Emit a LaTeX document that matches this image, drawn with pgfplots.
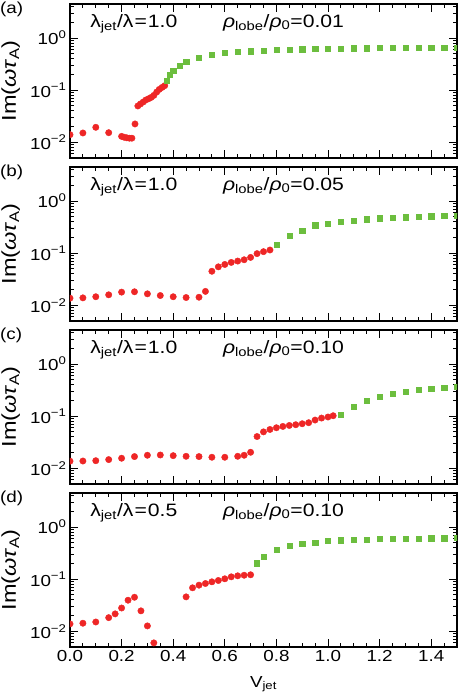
\documentclass[border=0pt]{standalone}
\usepackage{fontspec}
\setmainfont{Liberation Sans}[FakeStretch=1.18]
\usepackage{pgfplots}
\pgfplotsset{compat=1.18}
\definecolor{myred}{RGB}{238,38,38}
\definecolor{mygreen}{RGB}{108,190,62}
\newcommand{\fA}{\fontsize{18}{21}\selectfont}
\newcommand{\fY}{\fontsize{20}{23}\selectfont}
\newcommand{\fT}{\fontsize{16}{19}\selectfont}
\pgfplotsset{
  mypanel/.style={
    scale only axis, width=387bp, height=154bp,
    xmin=0, xmax=1.5, ymin=0.005, ymax=4.5,
    xtick={0,0.2,0.4,0.6,0.8,1.0,1.2,1.4},
    minor xtick={0.05,0.1,0.15,0.25,0.3,0.35,0.45,0.5,0.55,0.65,0.7,0.75,0.85,0.9,0.95,1.05,1.1,1.15,1.25,1.3,1.35,1.45},
    ytick={0.01,0.1,1},
    minor ytick={0.005,0.006,0.007,0.008,0.009,0.02,0.03,0.04,0.05,0.06,0.07,0.08,0.09,0.2,0.3,0.4,0.5,0.6,0.7,0.8,0.9,2,3,4},
    yticklabels={10\textsuperscript{−2},10\textsuperscript{−1},10\textsuperscript{0}},
    tick align=inside, major tick length=8bp, minor tick length=4bp,
    axis line style={line width=1.1bp},
    every tick/.style={black, line width=0.9bp},
    xticklabels={},
    tick label style={font=\fT},
    ylabel={Im(\textit{ωτ}\textsubscript{A})},
    every axis y label/.style={at={(axis description cs:-0.153,0.5)}, rotate=90, anchor=center, font=\fY},
    clip marker paths=true,
  },
  redpts/.style={only marks, mark=*, mark size=3.2bp, color=myred, mark options={draw=none, fill=myred}},
  grnpts/.style={only marks, mark=square*, mark size=2.6bp, color=mygreen, mark options={draw=none, fill=mygreen}},
}
\tikzset{lam/.style={anchor=base west, font=\fA, inner sep=0}}
\begin{document}
\begin{tikzpicture}
% ---------------- (a)
\begin{semilogyaxis}[mypanel, name=a, at={(0,0)}, anchor=north west]
\addplot+[redpts] coordinates {(0,0.0140) (0.05,0.0151) (0.1,0.0194) (0.15,0.0153) (0.2,0.0130) (0.21,0.0125) (0.22,0.0122) (0.23,0.0120) (0.24,0.0120) (0.252,0.0225) (0.263,0.0498) (0.273,0.0544) (0.284,0.0594) (0.294,0.0649) (0.305,0.0687) (0.315,0.0728) (0.325,0.0795) (0.336,0.092) (0.346,0.1035) (0.357,0.113) (0.367,0.122)};
\addplot+[grnpts] coordinates {(0.375,0.154) (0.3875,0.198) (0.4,0.236) (0.425,0.30) (0.45,0.35) (0.5,0.425) (0.55,0.485) (0.6,0.523) (0.65,0.546) (0.7,0.56) (0.75,0.58) (0.8,0.597) (0.85,0.605) (0.9,0.612) (0.95,0.617) (1.0,0.625) (1.05,0.632) (1.1,0.636) (1.15,0.64) (1.2,0.643) (1.25,0.646) (1.3,0.65) (1.35,0.652) (1.4,0.655) (1.45,0.658) (1.5,0.66)};
\node[lam] at (rel axis cs:0.052,0.85) {λ\textsubscript{jet}/λ\kern1pt=\kern1pt1.0};
\node[lam] at (rel axis cs:0.395,0.85) {\textit{ρ}\textsubscript{lobe}/\textit{ρ}\textsubscript{0}=0.01};
\end{semilogyaxis}
% ---------------- (b)
\begin{semilogyaxis}[mypanel, name=b, at={(0,-163bp)}, anchor=north west]
\addplot+[redpts] coordinates {(0,0.0137) (0.05,0.0139) (0.1,0.0146) (0.15,0.0159) (0.2,0.0179) (0.25,0.0182) (0.3,0.0166) (0.35,0.0154) (0.4,0.0146) (0.45,0.0141) (0.5,0.0143) (0.525,0.0185) (0.55,0.045) (0.575,0.0547) (0.6,0.0608) (0.625,0.0665) (0.65,0.0706) (0.675,0.0748) (0.7,0.083) (0.725,0.098) (0.75,0.107) (0.775,0.115)};
\addplot+[grnpts] coordinates {(0.8,0.147) (0.85,0.219) (0.9,0.273) (0.95,0.345) (1.0,0.369) (1.05,0.398) (1.1,0.422) (1.15,0.447) (1.2,0.47) (1.25,0.482) (1.3,0.49) (1.35,0.505) (1.4,0.512) (1.45,0.52) (1.5,0.53)};
\node[lam] at (rel axis cs:0.052,0.85) {λ\textsubscript{jet}/λ\kern1pt=\kern1pt1.0};
\node[lam] at (rel axis cs:0.395,0.85) {\textit{ρ}\textsubscript{lobe}/\textit{ρ}\textsubscript{0}=0.05};
\end{semilogyaxis}
% ---------------- (c)
\begin{semilogyaxis}[mypanel, name=c, at={(0,-326bp)}, anchor=north west]
\addplot+[redpts] coordinates {(0,0.0137) (0.05,0.0138) (0.1,0.0140) (0.15,0.0147) (0.2,0.0156) (0.25,0.0168) (0.3,0.0178) (0.35,0.018) (0.4,0.0175) (0.45,0.017) (0.5,0.0168) (0.55,0.0163) (0.6,0.0163) (0.65,0.017) (0.675,0.0178) (0.7,0.0203) (0.725,0.0407) (0.75,0.050) (0.775,0.0556) (0.8,0.060) (0.825,0.0636) (0.85,0.0664) (0.875,0.0686) (0.9,0.0716) (0.925,0.075) (0.95,0.0843) (0.975,0.092) (1.0,0.0964) (1.02,0.102)};
\addplot+[grnpts] coordinates {(1.05,0.1055) (1.1,0.153) (1.15,0.196) (1.2,0.238) (1.25,0.272) (1.3,0.297) (1.35,0.32) (1.4,0.34) (1.45,0.355) (1.5,0.366)};
\node[lam] at (rel axis cs:0.052,0.85) {λ\textsubscript{jet}/λ\kern1pt=\kern1pt1.0};
\node[lam] at (rel axis cs:0.395,0.85) {\textit{ρ}\textsubscript{lobe}/\textit{ρ}\textsubscript{0}=0.10};
\end{semilogyaxis}
% ---------------- (d)
\begin{semilogyaxis}[mypanel, name=d, at={(0,-489bp)}, anchor=north west,
  xticklabels={0.0,0.2,0.4,0.6,0.8,1.0,1.2,1.4},
  xlabel={V\textsubscript{jet}},
  every axis x label/.style={at={(axis description cs:0.5,-0.26)}, anchor=base, font=\fT}]
\addplot+[redpts] coordinates {(0,0.0139) (0.05,0.0143) (0.1,0.0151) (0.15,0.0183) (0.175,0.0216) (0.2,0.028) (0.225,0.0395) (0.25,0.045) (0.275,0.0247) (0.3,0.0127) (0.325,0.006) (0.45,0.0458) (0.475,0.0683) (0.5,0.0768) (0.525,0.0826) (0.55,0.089) (0.575,0.0944) (0.6,0.1017) (0.625,0.111) (0.65,0.116) (0.675,0.119) (0.7,0.1215)};
\addplot+[grnpts] coordinates {(0.725,0.203) (0.75,0.273) (0.8,0.372) (0.85,0.438) (0.9,0.478) (0.95,0.508) (1.0,0.547) (1.05,0.562) (1.1,0.57) (1.15,0.58) (1.2,0.589) (1.25,0.596) (1.3,0.605) (1.35,0.605) (1.4,0.612) (1.45,0.612) (1.5,0.615)};
\node[lam] at (rel axis cs:0.052,0.85) {λ\textsubscript{jet}/λ\kern1pt=\kern1pt0.5};
\node[lam] at (rel axis cs:0.395,0.85) {\textit{ρ}\textsubscript{lobe}/\textit{ρ}\textsubscript{0}=0.10};
\end{semilogyaxis}
% panel labels
\foreach \n in {a,b,c,d}{
  \node[anchor=north west, inner sep=0, font=\fontsize{16}{19}\selectfont] at ([xshift=-70bp,yshift=2bp]\n.north west) {(\n)};
}
\pgfresetboundingbox
\path[use as bounding box] (-70bp,4bp) rectangle (390bp,-691bp);
\end{tikzpicture}
\end{document}
